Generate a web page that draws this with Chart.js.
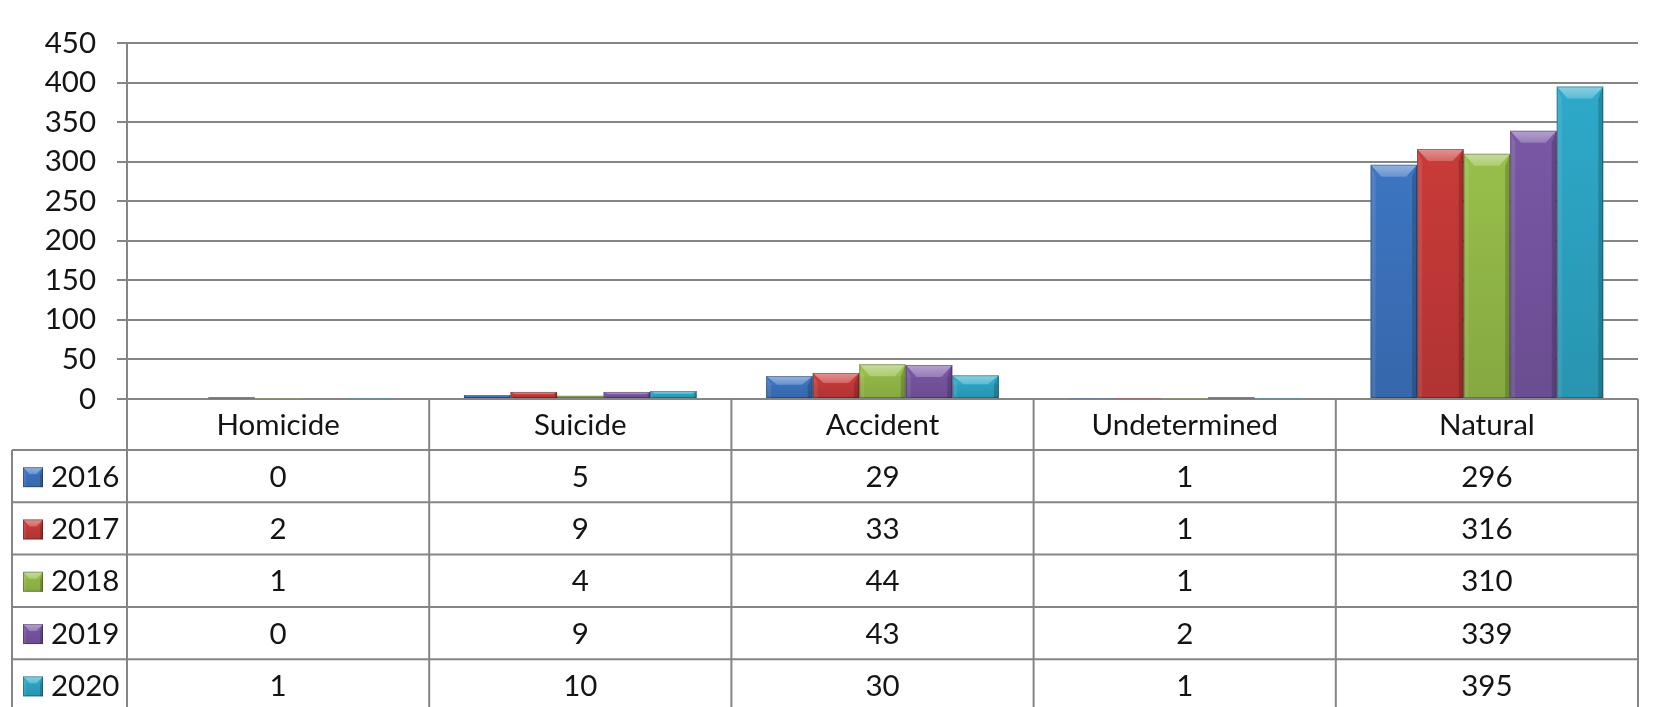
<!DOCTYPE html>
<html>
<head>
<meta charset="utf-8">
<script src="https://cdn.jsdelivr.net/npm/chart.js@4/dist/chart.umd.min.js"></script>
<style>
  html, body { margin: 0; padding: 0; background: #ffffff; }
  #wrap { width: 1663px; height: 707px; position: relative; }
</style>
</head>
<body>
<div id="wrap"><canvas id="c" width="1663" height="707"></canvas></div>
<script>
const categories = ['Homicide', 'Suicide', 'Accident', 'Undetermined', 'Natural'];
const years = ['2016', '2017', '2018', '2019', '2020'];
const values2016 = [0, 5, 29, 1, 296];
const values2017 = [2, 9, 33, 1, 316];
const values2018 = [1, 4, 44, 1, 310];
const values2019 = [0, 9, 43, 2, 339];
const values2020 = [1, 10, 30, 1, 395];
const yTicks = [0, 50, 100, 150, 200, 250, 300, 350, 400, 450];

const seriesValues = [values2016, values2017, values2018, values2019, values2020];
const colors = ['#3d75c2', '#c93b39', '#98bf4a', '#7957a5', '#2ea9c9'];
const FONT = 'Lato, "Open Sans", sans-serif';
const FSIZE = 29.5;
const TEXT = '#141414';
const LINE = '#858585';

function bevel(ctx, left, top, right, bottom, maxT, maxS) {
  const h = bottom - top, w = right - left;
  if (h <= 0.5 || w <= 0) return;
  const bt = Math.min(maxT, h / 2.5);
  const bs = Math.min(maxS, w / 6, h / 3);
  ctx.save();
  ctx.beginPath();
  ctx.moveTo(left, top); ctx.lineTo(right, top);
  ctx.lineTo(right - bs * 2.2, top + bt); ctx.lineTo(left + bs * 2.2, top + bt);
  ctx.closePath();
  const tg = ctx.createLinearGradient(0, top, 0, top + bt);
  tg.addColorStop(0, 'rgba(255,255,255,0.45)');
  tg.addColorStop(1, 'rgba(255,255,255,0.22)');
  ctx.fillStyle = tg;
  ctx.fill();
  ctx.beginPath();
  ctx.moveTo(left, top); ctx.lineTo(left + bs, top + bt);
  ctx.lineTo(left + bs, bottom); ctx.lineTo(left, bottom);
  ctx.closePath();
  ctx.fillStyle = 'rgba(255,255,255,0.10)';
  ctx.fill();
  ctx.beginPath();
  ctx.moveTo(right, top); ctx.lineTo(right - bs, top + bt);
  ctx.lineTo(right - bs, bottom); ctx.lineTo(right, bottom);
  ctx.closePath();
  ctx.fillStyle = 'rgba(0,0,0,0.18)';
  ctx.fill();
  const g = ctx.createLinearGradient(0, top, 0, bottom);
  g.addColorStop(0, 'rgba(0,0,0,0)');
  g.addColorStop(1, 'rgba(0,0,0,0.12)');
  ctx.fillStyle = g;
  ctx.fillRect(left, top + bt, w, h - bt);
  ctx.strokeStyle = 'rgba(0,0,0,0.28)';
  ctx.lineWidth = 1;
  ctx.strokeRect(left + 0.5, top + 0.5, w - 1, h - 1);
  ctx.restore();
}

const bevelPlugin = {
  id: 'bevel',
  afterDatasetsDraw(chart) {
    const ctx = chart.ctx;
    chart.data.datasets.forEach((ds, di) => {
      const meta = chart.getDatasetMeta(di);
      meta.data.forEach(bar => {
        const left = bar.x - bar.width / 2, right = bar.x + bar.width / 2;
        const top = Math.min(bar.y, bar.base), bottom = Math.max(bar.y, bar.base);
        bevel(ctx, left, top, right, bottom, 12, 5);
      });
    });
  }
};

const tablePlugin = {
  id: 'dataTable',
  afterDraw(chart) {
    const ctx = chart.ctx;
    const ca = chart.chartArea;
    const xs = chart.scales.x;
    const n = categories.length;
    const colW = (ca.right - ca.left) / n;
    const headerTop = ca.bottom;
    const headerBottom = headerTop + 51;
    const rowH = 52.3;
    const tableLeft = 12;
    const bottomEdge = chart.height + 2;
    ctx.save();
    ctx.strokeStyle = LINE;
    ctx.lineWidth = 2;
    ctx.beginPath();
    for (let i = 0; i <= n; i++) {
      const x = ca.left + i * colW;
      ctx.moveTo(x, headerTop); ctx.lineTo(x, bottomEdge);
    }
    ctx.moveTo(tableLeft, headerBottom); ctx.lineTo(tableLeft, bottomEdge);
    for (let r = 0; r < years.length; r++) {
      const y = headerBottom + r * rowH;
      ctx.moveTo(tableLeft, y); ctx.lineTo(ca.right, y);
    }
    ctx.stroke();

    ctx.fillStyle = TEXT;
    ctx.font = FSIZE + 'px ' + FONT;
    ctx.textAlign = 'center';
    ctx.textBaseline = 'middle';
    categories.forEach((c, i) => {
      ctx.fillText(c, xs.getPixelForValue(i), (headerTop + headerBottom) / 2 + 1);
    });
    years.forEach((yr, r) => {
      const cy = headerBottom + r * rowH + rowH / 2 + 1;
      const kx = 23, ks = 20;
      ctx.fillStyle = colors[r];
      ctx.fillRect(kx, cy - ks / 2, ks, ks);
      bevel(ctx, kx, cy - ks / 2, kx + ks, cy + ks / 2, 7, 3);
      ctx.fillStyle = TEXT;
      ctx.textAlign = 'left';
      ctx.fillText(yr, 51, cy);
      ctx.textAlign = 'center';
      seriesValues[r].forEach((v, i) => {
        ctx.fillText(String(v), xs.getPixelForValue(i), cy);
      });
    });
    ctx.restore();
  }
};

new Chart(document.getElementById('c'), {
  type: 'bar',
  data: {
    labels: categories,
    datasets: years.map((yr, i) => ({
      label: yr,
      data: seriesValues[i],
      backgroundColor: colors[i],
      borderWidth: 0,
      categoryPercentage: 0.77,
      barPercentage: 1.0
    }))
  },
  options: {
    responsive: false,
    animation: false,
    devicePixelRatio: 1,
    layout: { padding: { top: 43, bottom: 308, left: 0, right: 25 } },
    plugins: {
      legend: { display: false },
      tooltip: { enabled: false },
      title: { display: false }
    },
    scales: {
      x: {
        display: false,
        grid: { display: false }
      },
      y: {
        min: 0,
        max: 450,
        afterFit(scale) { scale.width = 127; },
        afterBuildTicks(scale) { scale.ticks = yTicks.map(v => ({ value: v })); },
        ticks: {
          color: TEXT,
          font: { family: FONT, size: FSIZE },
          padding: 21
        },
        grid: {
          color: LINE,
          lineWidth: 2,
          tickLength: 10,
          drawTicks: true
        },
        border: { display: true, color: LINE, width: 2 }
      }
    }
  },
  plugins: [bevelPlugin, tablePlugin]
});
</script>
</body>
</html>
